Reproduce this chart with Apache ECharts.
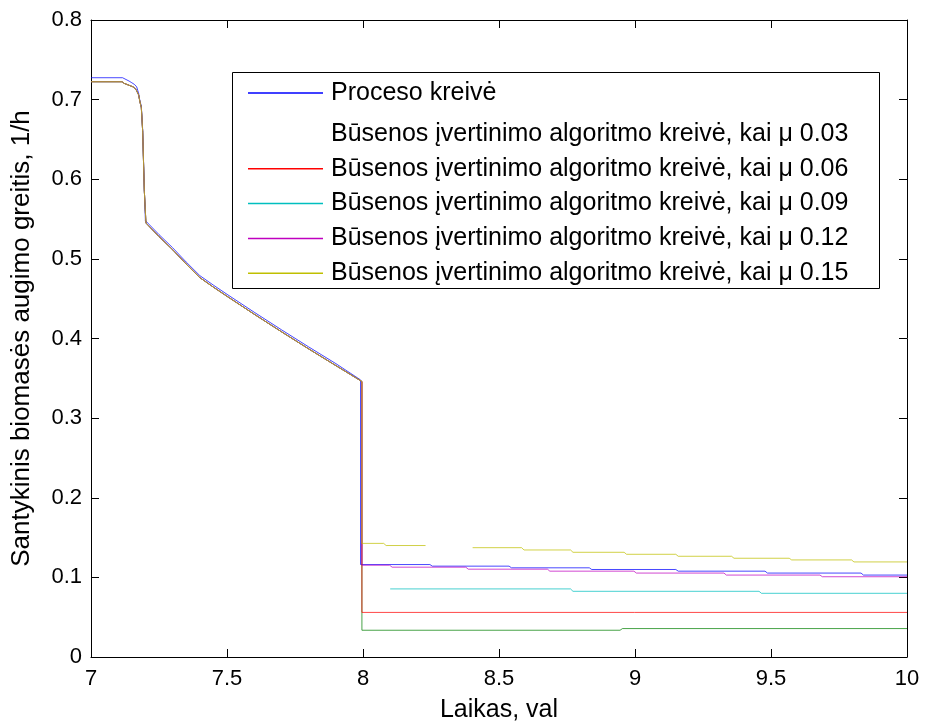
<!DOCTYPE html>
<html>
<head>
<meta charset="utf-8">
<script src="https://cdn.jsdelivr.net/npm/echarts@6/dist/echarts.min.js"></script>
<style>html,body{margin:0;padding:0;background:#fff}#c{width:925px;height:728px}</style>
</head>
<body>
<div id="c"></div>
<script>
// ---- data ----
const seriesNames = [
  'Proceso kreivė',
  'Būsenos įvertinimo algoritmo kreivė, kai μ 0.03',
  'Būsenos įvertinimo algoritmo kreivė, kai μ 0.06',
  'Būsenos įvertinimo algoritmo kreivė, kai μ 0.09',
  'Būsenos įvertinimo algoritmo kreivė, kai μ 0.12',
  'Būsenos įvertinimo algoritmo kreivė, kai μ 0.15'
];
const xTicks = [7, 7.5, 8, 8.5, 9, 9.5, 10];
const yTicks = [0, 0.1, 0.2, 0.3, 0.4, 0.5, 0.6, 0.7, 0.8];

// process curve before the drop at t = 8
const procPreX = [7.0, 7.116, 7.122, 7.14, 7.15, 7.16, 7.168, 7.175, 7.18, 7.185, 7.19, 7.196, 7.2, 7.25, 7.3, 7.35, 7.4, 7.45, 7.5, 7.6, 7.7, 7.8, 7.9, 7.991];
const procPreY = [0.7275, 0.7275, 0.7254, 0.7233, 0.7212, 0.719, 0.716, 0.708, 0.698, 0.692, 0.662, 0.588, 0.548, 0.5305, 0.514, 0.496, 0.479, 0.467, 0.4555, 0.433, 0.411, 0.3895, 0.3685, 0.348];
// estimator curves before the drop (all coincide)
const estPreX = [7.0, 7.114, 7.122, 7.14, 7.155, 7.165, 7.175, 7.18, 7.185, 7.19, 7.196, 7.202, 7.205, 7.25, 7.3, 7.35, 7.4, 7.45, 7.5, 7.6, 7.7, 7.8, 7.9, 7.996];
const estPreY = [0.7225, 0.7225, 0.7204, 0.718, 0.716, 0.713, 0.706, 0.697, 0.69, 0.66, 0.586, 0.545, 0.543, 0.528, 0.5115, 0.4935, 0.4765, 0.4645, 0.453, 0.4305, 0.4085, 0.387, 0.366, 0.346];

// step levels after t = 8 (start, change points, end) and levels
const procStepX = [7.991, 8.246, 8.537, 8.832, 9.150, 9.478, 9.831, 10];
const procStepY = [0.1161, 0.1141, 0.112, 0.1099, 0.1078, 0.1054, 0.1029];
const mu03StepX = [7.996, 8.945, 10];
const mu03StepY = [0.0336, 0.0357];
const mu06StepX = [7.996, 10];
const mu06StepY = [0.056];
const mu09StepX = [8.1, 8.763, 9.456, 10];
const mu09StepY = [0.0855, 0.0825, 0.080];
const mu12StepX = [7.996, 8.098, 8.378, 8.678, 8.996, 9.327, 9.680, 10];
const mu12StepY = [0.1153, 0.1128, 0.1103, 0.1078, 0.1054, 0.1029, 0.1008];
const mu15StepXa = [7.996, 8.076, 8.23];
const mu15StepYa = [0.1427, 0.140];
const mu15StepXb = [8.403, 8.583, 8.763, 8.960, 9.150, 9.355, 9.567, 9.796, 10];
const mu15StepYb = [0.1373, 0.1344, 0.1315, 0.129, 0.1265, 0.124, 0.1219, 0.1194];

const colors = ['#0000ff', '#008000', '#ff0000', '#00bfbf', '#bf00bf', '#bfbf00'];

// ---- build ----
const JOG = 0.009; // small horizontal jog so tiny level changes are not dropped by the renderer
function pairs(xs, ys) { return xs.map((x, i) => [x, ys[i]]); }
function stairs(xs, ys) {
  const out = [];
  for (let i = 0; i < ys.length; i++) {
    out.push([i === 0 ? xs[i] : xs[i] + JOG, ys[i]]);
    out.push([xs[i + 1], ys[i]]);
  }
  return out;
}
const dProc = pairs(procPreX, procPreY).concat(stairs(procStepX, procStepY));
const est = pairs(estPreX, estPreY);
const d03 = est.concat(stairs(mu03StepX, mu03StepY));
const d06 = est.concat(stairs(mu06StepX, mu06StepY));
const d09 = est.concat([null], stairs(mu09StepX, mu09StepY));
const d12 = est.concat(stairs(mu12StepX, mu12StepY));
const d15 = est.concat(stairs(mu15StepXa, mu15StepYa), [null], stairs(mu15StepXb, mu15StepYb));
const allData = [dProc, d03, d06, d09, d12, d15];

const FONT = 'Liberation Sans, Arial, sans-serif';
const chart = echarts.init(document.getElementById('c'), null, {renderer: 'canvas'});

const series = allData.map((d, i) => ({
  name: seriesNames[i],
  type: 'line',
  data: d,
  xAxisIndex: 0, yAxisIndex: 0,
  symbol: 'none',
  connectNulls: false,
  animation: false,
  color: colors[i],
  lineStyle: {width: 1, color: colors[i], opacity: 0.72},
  itemStyle: {color: colors[i]},
  z: 2 + i * 0.01
}));

const legendItem = (i) => ({
  name: seriesNames[i],
  itemStyle: {color: i === 1 ? 'rgba(0,0,0,0)' : colors[i], opacity: i === 1 ? 0 : 1}
});

const axisCommon = {
  axisLine: {show: true, onZero: false, lineStyle: {color: '#000', width: 1}},
  axisTick: {show: true, inside: true, length: 8, lineStyle: {color: '#000', width: 1}},
  splitLine: {show: false}
};

const legendText = {fontFamily: FONT, fontSize: 25, color: '#000', lineHeight: 26, padding: [0, 0, 0, 3]};

chart.setOption({
  backgroundColor: '#fff',
  animation: false,
  grid: {left: 91, right: 18, top: 20, bottom: 65, containLabel: false},
  xAxis: [
    Object.assign({
      type: 'value', min: 7, max: 10, interval: 0.5, position: 'bottom',
      name: 'Laikas, val', nameLocation: 'middle', nameGap: 41,
      nameTextStyle: {fontFamily: FONT, fontSize: 25, color: '#000'},
      axisLabel: {margin: 11, fontFamily: FONT, fontSize: 22, color: '#000',
        formatter: v => (xTicks.includes(v) ? String(v) : '')}
    }, axisCommon),
    Object.assign({
      type: 'value', min: 7, max: 10, interval: 0.5, position: 'top',
      axisLabel: {show: false}
    }, axisCommon)
  ],
  yAxis: [
    Object.assign({
      type: 'value', min: 0, max: 0.8, interval: 0.1, position: 'left',
      name: 'Santykinis biomasės augimo greitis, 1/h', nameLocation: 'middle', nameGap: 56,
      nameTextStyle: {fontFamily: FONT, fontSize: 26, color: '#000'},
      axisLabel: {margin: 9, fontFamily: FONT, fontSize: 22, color: '#000',
        formatter: v => { const t = yTicks.find(y => Math.abs(y - v) < 1e-9); return t === undefined ? '' : String(t); }}
    }, axisCommon),
    Object.assign({
      type: 'value', min: 0, max: 0.8, interval: 0.1, position: 'right',
      axisLabel: {show: false}
    }, axisCommon)
  ],
  graphic: [{
    type: 'rect', z: 5,
    shape: {x: 232.5, y: 72.5, width: 647, height: 216},
    style: {fill: '#fff', stroke: '#000', lineWidth: 1}
  }],
  legend: [
    {
      z: 10, orient: 'vertical', left: 248, top: 80, padding: 0, itemWidth: 75, itemHeight: 1.5, icon: 'rect',
      itemGap: 9, selectedMode: false, textStyle: legendText,
      data: [legendItem(0)]
    },
    {
      z: 10, orient: 'vertical', left: 248, top: 121, padding: 0, itemWidth: 75, itemHeight: 1.5, icon: 'rect',
      itemGap: 8.8, selectedMode: false, textStyle: legendText,
      data: [legendItem(1), legendItem(2), legendItem(3), legendItem(4), legendItem(5)]
    }
  ],
  series: series
});
</script>
</body>
</html>
